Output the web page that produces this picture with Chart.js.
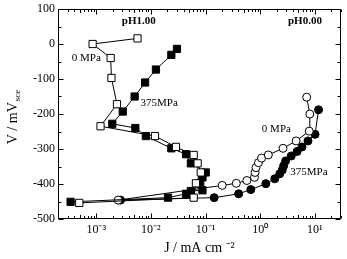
<!DOCTYPE html>
<html>
<head>
<meta charset="utf-8">
<script src="https://cdn.jsdelivr.net/npm/chart.js@4"></script>
<style>
  body { margin: 0; background: #fff; }
</style>
</head>
<body>
<canvas id="chart" width="347" height="259"></canvas>
<script>
// pH 1.00, 0 MPa (open squares)
const ph1Open_J = [0.0057, 0.00086, 0.00184, 0.0019, 0.0024, 0.0012, 0.0119, 0.0288, 0.0608, 0.0718, 0.082, 0.0668, 0.0608, 0.00049];
const ph1Open_V = [16, 0, -40, -97, -172, -235, -263, -294, -317, -341, -367, -398, -439, -454];

// pH 1.00, 375 MPa (filled squares)
const ph1Fill_J = [0.030, 0.0237, 0.0124, 0.00785, 0.00505, 0.00306, 0.00197, 0.0052, 0.0081, 0.0237, 0.0442, 0.054, 0.101, 0.088, 0.080, 0.088, 0.054, 0.0442, 0.0206, 0.00034];
const ph1Fill_V = [-14, -31, -73, -110, -150, -193, -228, -240, -263, -298, -315, -341, -367, -381, -399, -418, -420, -428, -439, -451];

// pH 0.00, 0 MPa (open circles)
const ph0Open_J = [0.00252, 0.202, 0.366, 0.571, 0.785, 0.805, 0.84, 0.93, 1.06, 1.41, 2.62, 4.55, 7.9, 8.1, 7.1];
const ph0Open_V = [-446, -404, -398, -390, -381, -367, -353, -339, -326, -317, -298, -277, -249, -200, -152];

// pH 0.00, 375 MPa (filled circles)
const ph0Fill_J = [0.00279, 0.144, 0.404, 0.675, 1.27, 1.85, 2.28, 2.54, 2.69, 2.92, 3.70, 4.74, 5.83, 7.5, 10.1, 11.7];
const ph0Fill_V = [-446, -439, -428, -416, -399, -385, -371, -360, -348, -334, -320, -307, -294, -277, -258, -188];

// axis ranges
const xMin = 2e-4, xMax = 30;
const yMin = -500, yMax = 100;

// text notes, placed in data coordinates
const notes = [
  { text: 'pH1.00', J: 0.006, V: 64, bold: true },
  { text: 'pH0.00', J: 6.6, V: 65, bold: true },
  { text: '0 MPa', J: 0.00066, V: -40 },
  { text: '375MPa', J: 0.0142, V: -170 },
  { text: '0 MPa', J: 1.98, V: -243 },
  { text: '375MPa', J: 7.8, V: -367 }
];

const SERIF = "'Liberation Serif', 'Times New Roman', serif";

function pts(xs, ys) {
  return xs.map((x, i) => ({ x: x, y: ys[i] }));
}

function series(xs, ys, style, filled) {
  return {
    data: pts(xs, ys),
    showLine: true,
    borderColor: '#000',
    borderWidth: 1,
    pointStyle: style,
    pointRadius: style === 'rect' ? 5.1 : 4,
    pointBorderWidth: 1,
    pointBorderColor: '#000',
    pointBackgroundColor: filled ? '#000' : '#fff'
  };
}

const SUP = { '-': '\u207B', '0': '\u2070', '1': '\u00B9', '2': '\u00B2', '3': '\u00B3', '4': '\u2074' };

function powLabel(v) {
  const e = Math.log10(v);
  const r = Math.round(e);
  if (Math.abs(e - r) > 1e-6) return '';
  return '10' + String(r).split('').map(c => SUP[c]).join('');
}

// box, inward ticks on all four sides, y title, notes
const frame = {
  id: 'frame',
  afterDatasetsDraw(chart) {
    const ctx = chart.ctx;
    const a = chart.chartArea;
    const xs = chart.scales.x, ys = chart.scales.y;
    const L = Math.round(a.left) + 0.5, R = Math.round(a.right) - 0.5;
    const T = Math.round(a.top) + 0.5, B = Math.round(a.bottom) - 0.5;
    ctx.save();
    ctx.strokeStyle = '#000';
    ctx.lineWidth = 1;
    ctx.beginPath();
    ctx.rect(L, T, R - L, B - T);
    for (let d = -4; d <= 1; d++) {
      for (let k = 1; k <= 9; k++) {
        const v = k * Math.pow(10, d);
        if (v < xMin || v > xMax) continue;
        const px = Math.round(xs.getPixelForValue(v)) + 0.5;
        const len = k === 1 ? 5 : (k === 5 ? 3.5 : 2.5);
        ctx.moveTo(px, B); ctx.lineTo(px, B - len);
        ctx.moveTo(px, T); ctx.lineTo(px, T + len);
      }
    }
    for (let v = yMin; v <= yMax; v += 50) {
      const py = Math.round(ys.getPixelForValue(v)) + 0.5;
      const len = v % 100 === 0 ? 5 : 3;
      ctx.moveTo(L, py); ctx.lineTo(L + len, py);
      ctx.moveTo(R, py); ctx.lineTo(R - len, py);
    }
    ctx.stroke();

    // notes
    ctx.fillStyle = '#000';
    ctx.textAlign = 'center';
    ctx.textBaseline = 'middle';
    notes.forEach(n => {
      ctx.font = (n.bold ? 'bold ' : '') + '11px ' + SERIF;
      ctx.fillText(n.text, xs.getPixelForValue(n.J), ys.getPixelForValue(n.V));
    });

    // y title with subscript
    ctx.translate(17, (a.top + a.bottom) / 2 + 3);
    ctx.rotate(-Math.PI / 2);
    ctx.textAlign = 'left';
    ctx.textBaseline = 'alphabetic';
    ctx.font = '14px ' + SERIF;
    const main = 'V / mV';
    const wMain = ctx.measureText(main).width;
    ctx.font = '9px ' + SERIF;
    const wSub = ctx.measureText('sce').width;
    const x0 = -(wMain + wSub + 1) / 2;
    ctx.font = '14px ' + SERIF;
    ctx.fillText(main, x0, 0);
    ctx.font = '9px ' + SERIF;
    ctx.fillText('sce', x0 + wMain + 1, 3);
    ctx.restore();
  }
};

new Chart(document.getElementById('chart'), {
  type: 'scatter',
  data: {
    datasets: [
      series(ph1Open_J, ph1Open_V, 'rect', false),
      series(ph1Fill_J, ph1Fill_V, 'rect', true),
      series(ph0Open_J, ph0Open_V, 'circle', false),
      series(ph0Fill_J, ph0Fill_V, 'circle', true)
    ]
  },
  options: {
    responsive: false,
    animation: false,
    layout: { padding: { top: 0, right: 3, left: 0, bottom: 0 } },
    plugins: { legend: { display: false }, tooltip: { enabled: false } },
    scales: {
      x: {
        type: 'logarithmic',
        min: xMin,
        max: xMax,
        grid: { display: false, drawTicks: false },
        border: { display: false },
        ticks: {
          autoSkip: false,
          maxRotation: 0,
          padding: 4,
          color: '#000',
          font: { family: SERIF, size: 12 },
          callback: v => powLabel(v)
        },
        title: {
          display: true,
          text: 'J / mA cm \u207B\u00B2',
          color: '#000',
          font: { family: SERIF, size: 14 },
          padding: { top: 0, bottom: 2 }
        },
        afterFit: s => { s.height = 40; }
      },
      y: {
        min: yMin,
        max: yMax,
        grid: { display: false, drawTicks: false },
        border: { display: false },
        ticks: {
          stepSize: 100,
          padding: 3,
          color: '#000',
          font: { family: SERIF, size: 12, lineHeight: 1 },
          callback: v => String(v)
        },
        afterFit: s => { s.width = 58; }
      }
    }
  },
  plugins: [frame]
});
</script>
</body>
</html>
